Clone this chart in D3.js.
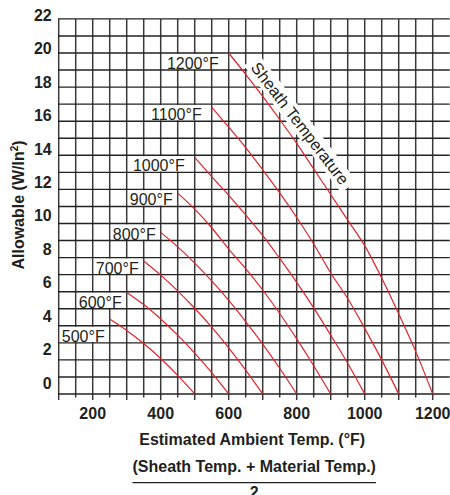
<!DOCTYPE html>
<html><head><meta charset="utf-8">
<script src="https://cdn.jsdelivr.net/npm/d3@7"></script>
<style>html,body{margin:0;padding:0;background:#fff;} svg{display:block;}</style>
</head><body><svg id="c" width="450" height="495"></svg>
<script>
// ---- data ----
const sheathTemps = [500, 600, 700, 800, 900, 1000, 1100, 1200];
const curveLabels = ["500°F", "600°F", "700°F", "800°F", "900°F", "1000°F", "1100°F", "1200°F"];
const labelRows = [3, 5, 7, 9, 11, 13, 16, 19];
const curve500  = [[250,4.4],[300,3.73],[350,2.96],[400,2.08],[450,1.09],[500,0]];
const curve600  = [[300,5.96],[350,5.25],[400,4.40],[450,3.45],[500,2.40],[550,1.25],[600,0]];
const curve700  = [[350,7.8],[400,6.97],[450,6.05],[500,5.03],[550,3.92],[600,2.71],[650,1.40],[700,0]];
const curve800  = [[400,9.48],[450,8.63],[500,7.68],[550,6.63],[600,5.49],[650,4.25],[700,2.93],[750,1.51],[800,0]];
const curve900  = [[450,11.78],[500,10.84],[550,9.75],[600,8.5],[650,7.35],[700,6.1],[750,4.72],[800,3.23],[850,1.66],[900,0]];
const curve1000 = [[500,13.88],[550,12.75],[600,11.65],[650,10.5],[700,9.3],[750,7.95],[800,6.55],[850,5.05],[900,3.45],[950,1.8],[1000,0]];
const curve1100 = [[550,16.82],[600,15.65],[650,14.45],[700,13.15],[750,11.8],[800,10.35],[850,8.8],[900,7.1],[950,5.6],[1000,3.85],[1050,2.0],[1100,0]];
const curve1200 = [[600,20.0],[650,18.75],[700,17.45],[750,16.1],[800,14.7],[850,13.2],[900,11.7],[950,10.2],[1000,8.7],[1050,6.8],[1100,4.7],[1150,2.5],[1200,0]];
const curves = [curve500, curve600, curve700, curve800, curve900, curve1000, curve1100, curve1200];
const xTicks = [200, 400, 600, 800, 1000, 1200];
const yTicks = [0, 2, 4, 6, 8, 10, 12, 14, 16, 18, 20, 22];
const sheathLabel = "Sheath Temperature";
const sheathLabelAt = [810, 15.87];
const yTitle = "Allowable (W/In";
const xTitle1 = "Estimated Ambient Temp. (°F)";
const xTitle2 = "(Sheath Temp. + Material Temp.)";
const xTitle3 = "2";

// ---- scales ----
const x = d3.scaleLinear().domain([100, 1250]).range([58.7, 449.7]);
const y = d3.scaleLinear().domain([0, 22]).range([394, 18.9]);
const yLab = d3.scaleLinear().domain([0, 22]).range([383, 15]);

const FONT = "'Liberation Sans', Arial, sans-serif";
const INK = "#231f20";
const svg = d3.select("#c");

// vertical grid
const vgrid = d3.range(100, 1201, 50);
svg.append("g").selectAll("line").data(vgrid).join("line")
  .attr("x1", d => x(d)).attr("x2", d => x(d))
  .attr("y1", y(22)).attr("y2", y(0))
  .attr("stroke", "#3a3a3a").attr("stroke-width", 1.5);
// tick marks below the axis
svg.append("g").selectAll("line").data(vgrid).join("line")
  .attr("x1", d => x(d)).attr("x2", d => x(d))
  .attr("y1", y(0)).attr("y2", d => y(0) + (d % 100 === 0 ? 6 : 3.5))
  .attr("stroke", "#3a3a3a").attr("stroke-width", 1.5);

// label boxes (hide vertical lines inside their grid row)
const labelG = svg.append("g");
const labelData = sheathTemps.map((t, i) => {
  const start = curves[i][0];
  const gap = t >= 1000 ? 10 : 5;
  return { text: curveLabels[i], xs: x(start[0]), xr: x(start[0]) - gap, row: labelRows[i] };
});
const boxes = labelG.append("g");
const texts = labelG.append("g").selectAll("text").data(labelData).join("text")
  .attr("x", d => d.xr).attr("y", d => y(d.row) - 1)
  .attr("text-anchor", "end")
  .attr("font-family", FONT).attr("font-size", 16).attr("fill", INK)
  .text(d => d.text);
texts.each(function (d) {
  const bb = this.getBBox();
  d.bx0 = Math.max(x(100) + 0.8, bb.x - 2);
  d.bx1 = d.xs - 0.8;
});
boxes.selectAll("rect").data(labelData).join("rect")
  .attr("x", d => d.bx0).attr("width", d => d.bx1 - d.bx0)
  .attr("y", d => y(d.row + 1) + 0.8).attr("height", d => y(d.row) - y(d.row + 1) - 1.6)
  .attr("fill", "#fff");

// horizontal grid
svg.append("g").selectAll("line").data(d3.range(0, 23)).join("line")
  .attr("x1", x(100) - 0.75).attr("x2", x(1250))
  .attr("y1", d => y(d)).attr("y2", d => y(d))
  .attr("stroke", "#222").attr("stroke-width", 1.4);

// sheath label
const sx = x(sheathLabelAt[0]), sy = y(sheathLabelAt[1]);
const sg = svg.append("g").attr("transform", `translate(${sx},${sy}) rotate(52.5)`);
sg.append("rect").attr("x", -80).attr("y", -9.5).attr("width", 160).attr("height", 19).attr("fill", "#fff");
sg.append("text").attr("text-anchor", "middle").attr("dy", "0.35em")
  .attr("font-family", FONT).attr("font-size", 16.5).attr("fill", INK)
  .text(sheathLabel);

// curves
const line = d3.line().x(d => x(d[0])).y(d => y(d[1])).curve(d3.curveMonotoneX);
svg.append("g").selectAll("path").data(curves).join("path")
  .attr("d", line).attr("fill", "none")
  .attr("stroke", "#e0242c").attr("stroke-width", 1.2);

// y tick labels
svg.append("g").selectAll("text").data(yTicks).join("text")
  .attr("x", 51.7).attr("y", d => yLab(d)).attr("dy", "0.36em")
  .attr("text-anchor", "end").attr("font-family", FONT).attr("font-weight", "bold")
  .attr("font-size", 16).attr("fill", INK).text(d => d);

// x tick labels
svg.append("g").selectAll("text").data(xTicks).join("text")
  .attr("x", d => x(d)).attr("y", 418.5)
  .attr("text-anchor", "middle").attr("font-family", FONT).attr("font-weight", "bold")
  .attr("font-size", 16).attr("fill", INK).text(d => d);

// y title
const yt = svg.append("text").attr("transform", "translate(24,205) rotate(-90)")
  .attr("text-anchor", "middle").attr("font-family", FONT).attr("font-weight", "bold")
  .attr("font-size", 16).attr("fill", INK);
yt.append("tspan").text(yTitle);
yt.append("tspan").attr("font-size", 10).attr("dy", -6).text("2");
yt.append("tspan").attr("dy", 6).text(")");

// x title
const cx = (x.range()[0] + x.range()[1]) / 2;
svg.append("text").attr("x", cx - 2).attr("y", 445).attr("text-anchor", "middle")
  .attr("font-family", FONT).attr("font-weight", "bold").attr("font-size", 16).attr("fill", INK)
  .text(xTitle1);
const t2 = svg.append("text").attr("x", cx).attr("y", 471.5).attr("text-anchor", "middle")
  .attr("font-family", FONT).attr("font-weight", "bold").attr("font-size", 16).attr("fill", INK)
  .text(xTitle2);
const b2 = t2.node().getBBox();
svg.append("line").attr("x1", b2.x).attr("x2", b2.x + b2.width).attr("y1", 482.7).attr("y2", 482.7)
  .attr("stroke", INK).attr("stroke-width", 1.2);
svg.append("text").attr("x", cx).attr("y", 498).attr("text-anchor", "middle")
  .attr("font-family", FONT).attr("font-weight", "bold").attr("font-size", 16).attr("fill", INK)
  .text(xTitle3);
</script>
</body></html>
